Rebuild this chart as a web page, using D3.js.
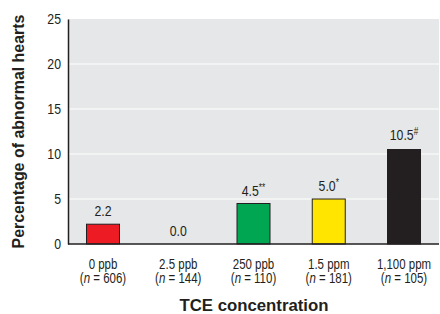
<!DOCTYPE html>
<html>
<head>
<meta charset="utf-8">
<script src="https://cdn.jsdelivr.net/npm/d3@7"></script>
<style>
  body { margin: 0; background: #fff; }
  text { font-family: "Liberation Sans", Arial, sans-serif; fill: #231f20; }
</style>
</head>
<body>
<div id="chart"></div>
<script>
var concentrations = ["0 ppb", "2.5 ppb", "250 ppb", "1.5 ppm", "1,100 ppm"];
var sampleSizes = ["606", "144", "110", "181", "105"];
var percentages = [2.2, 0.0, 4.5, 5.0, 10.5];
var marks = ["", "", "**", "*", "#"];
var barColors = ["#ed1c24", "#ed1c24", "#00a651", "#ffe500", "#231f20"];
var yTicks = [0, 5, 10, 15, 20, 25];

var rows = concentrations.map(function (c, i) {
    return { cat: c, n: sampleSizes[i], value: percentages[i], mark: marks[i], color: barColors[i] };
});

var width = 440, height = 314;
var margin = { top: 19, right: 1, bottom: 70, left: 68 };
var squeeze = 0.82; // horizontal squeeze, the original uses a condensed face

var svg = d3.select("#chart").append("svg")
    .attr("width", width)
    .attr("height", height);

var xScale = d3.scalePoint()
    .domain(concentrations)
    .range([margin.left, width - margin.right])
    .padding(0.465);

var yScale = d3.scaleLinear()
    .domain([0, 25])
    .range([height - margin.bottom, margin.top]);

var barWidth = 33;

// plot background
svg.append("rect")
    .attr("x", margin.left)
    .attr("y", margin.top)
    .attr("width", width - margin.right - margin.left)
    .attr("height", yScale(0) - margin.top)
    .attr("fill", "#e6e7e8");

// gridlines
svg.append("g")
    .selectAll("line")
    .data(yTicks.filter(d => d > 0 && d < 25))
    .enter().append("line")
    .attr("x1", margin.left)
    .attr("x2", width - margin.right)
    .attr("y1", d => yScale(d))
    .attr("y2", d => yScale(d))
    .attr("stroke", "#fff")
    .attr("stroke-width", 1);

// bars
svg.append("g")
    .selectAll("rect")
    .data(rows.filter(d => d.value > 0))
    .enter().append("rect")
    .attr("x", d => xScale(d.cat) - barWidth / 2)
    .attr("y", d => yScale(d.value))
    .attr("width", barWidth)
    .attr("height", d => yScale(0) - yScale(d.value))
    .attr("fill", d => d.color)
    .attr("stroke", "#231f20")
    .attr("stroke-width", 1);

// value labels
var labels = svg.append("g")
    .selectAll("text")
    .data(rows)
    .enter().append("text")
    .attr("transform", d => "translate(" + xScale(d.cat) + "," + (yScale(d.value) - (d.value > 5 ? 10 : 8)) + ") scale(" + squeeze + ",1)")
    .attr("text-anchor", "middle")
    .style("font-size", "15px");
labels.append("tspan").text(d => d.value.toFixed(1));
labels.append("tspan")
    .attr("dy", "-0.5em")
    .style("font-size", "10px")
    .text(d => d.mark);

// y axis
var yAxis = d3.axisLeft(yScale).tickValues(yTicks).tickSize(0).tickPadding(7);
var yG = svg.append("g")
    .attr("transform", "translate(" + margin.left + ",0)")
    .call(yAxis);
yG.select(".domain").attr("stroke", "#231f20").attr("stroke-width", 1.5);
yG.selectAll("text")
    .style("font-size", "15px")
    .style("font-family", null)
    .attr("fill", "#231f20")
    .attr("x", -7 / squeeze)
    .attr("transform", "scale(" + squeeze + ",1)");

// x axis
var xG = svg.append("g")
    .attr("transform", "translate(0," + yScale(0) + ")");
xG.append("line")
    .attr("x1", margin.left)
    .attr("x2", width - margin.right)
    .attr("stroke", "#231f20")
    .attr("stroke-width", 1.5);

xG.selectAll(".cat")
    .data(rows)
    .enter().append("text")
    .attr("class", "cat")
    .attr("text-anchor", "middle")
    .attr("transform", d => "translate(" + xScale(d.cat) + ",25) scale(" + squeeze + ",1)")
    .style("font-size", "14px")
    .text(d => d.cat);

var nLine = xG.selectAll(".nlab")
    .data(rows)
    .enter().append("text")
    .attr("class", "nlab")
    .attr("text-anchor", "middle")
    .attr("transform", d => "translate(" + xScale(d.cat) + ",38.5) scale(" + squeeze + ",1)")
    .style("font-size", "14px");
nLine.append("tspan").text("(");
nLine.append("tspan").style("font-style", "italic").text("n");
nLine.append("tspan").text(d => " = " + d.n + ")");

// axis titles
svg.append("text")
    .attr("transform", "translate(24," + (margin.top + yScale(0)) / 2 + ") rotate(-90)")
    .attr("text-anchor", "middle")
    .style("font-size", "17px")
    .style("font-weight", 700)
    .attr("textLength", 234)
    .attr("lengthAdjust", "spacingAndGlyphs")
    .text("Percentage of abnormal hearts");

svg.append("text")
    .attr("x", (margin.left + width) / 2)
    .attr("y", 311)
    .attr("text-anchor", "middle")
    .style("font-size", "17px")
    .style("font-weight", 700)
    .attr("textLength", 149)
    .attr("lengthAdjust", "spacingAndGlyphs")
    .text("TCE concentration");
</script>
</body>
</html>
